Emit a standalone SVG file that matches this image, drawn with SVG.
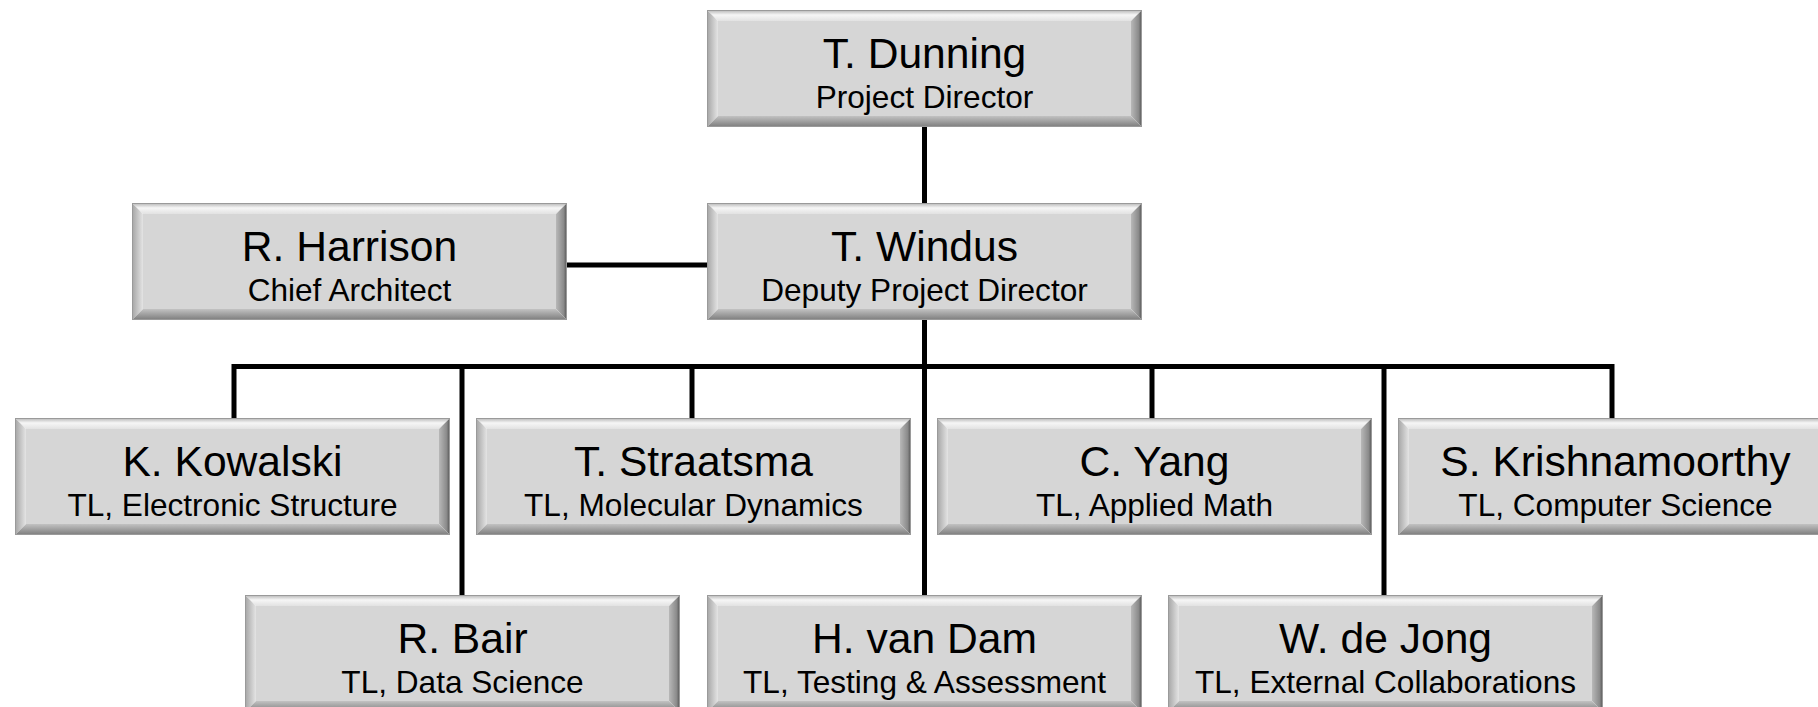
<svg xmlns="http://www.w3.org/2000/svg" xmlns:xlink="http://www.w3.org/1999/xlink" width="1818" height="707" viewBox="0 0 1818 707">
<style>
.name{font-family:"Liberation Sans",Arial,sans-serif;font-size:42.6px;fill:#000;text-anchor:middle}
.role{font-family:"Liberation Sans",Arial,sans-serif;font-size:31.6px;fill:#000;text-anchor:middle}
.conn{stroke:#000;stroke-width:5;fill:none;stroke-linecap:butt}
</style>
<defs>
<linearGradient id="gTop" x1="0" y1="0" x2="0" y2="1"><stop offset="0" stop-color="#b4b4b4"/><stop offset="0.45" stop-color="#f6f6f6"/><stop offset="1" stop-color="#e2e2e2"/></linearGradient>
<linearGradient id="gLeft" x1="0" y1="0" x2="1" y2="0"><stop offset="0" stop-color="#a4a4a4"/><stop offset="1" stop-color="#e4e4e4"/></linearGradient>
<linearGradient id="gRight" x1="0" y1="0" x2="1" y2="0"><stop offset="0" stop-color="#b8b8b8"/><stop offset="0.7" stop-color="#8a8a8a"/><stop offset="1" stop-color="#505050"/></linearGradient>
<linearGradient id="gBot" x1="0" y1="0" x2="0" y2="1"><stop offset="0" stop-color="#c2c2c2"/><stop offset="1" stop-color="#7c7c7c"/></linearGradient>
<g id="box">
<rect x="11" y="11" width="413" height="95" fill="#d6d6d6"/>
<polygon points="0,0 435,0 424,11 11,11" fill="url(#gTop)"/>
<polygon points="0,0 11,11 11,106 0,117" fill="url(#gLeft)"/>
<polygon points="435,0 435,117 424,106 424,11" fill="url(#gRight)"/>
<polygon points="0,117 11,106 424,106 435,117" fill="url(#gBot)"/>
<rect x="0.5" y="0.5" width="434" height="116" fill="none" stroke="#9a9a9a" stroke-width="1"/>
</g>
</defs>
<g id="connectors">
<line class="conn" x1="924.5" y1="127" x2="924.5" y2="203"/>
<line class="conn" x1="567" y1="265" x2="707" y2="265"/>
<line class="conn" x1="924.5" y1="320" x2="924.5" y2="595"/>
<path class="conn" d="M234,418 V366.5 H1612 V418"/>
<line class="conn" x1="692" y1="366.5" x2="692" y2="418"/>
<line class="conn" x1="1152" y1="366.5" x2="1152" y2="418"/>
<line class="conn" x1="462" y1="366.5" x2="462" y2="595"/>
<line class="conn" x1="1384" y1="366.5" x2="1384" y2="595"/>
</g>
<g id="dunning"><use xlink:href="#box" x="707" y="10"/><text class="name" x="924.5" y="68">T. Dunning</text><text class="role" x="924.5" y="108">Project Director</text></g>
<g id="windus"><use xlink:href="#box" x="707" y="203"/><text class="name" x="924.5" y="261">T. Windus</text><text class="role" x="924.5" y="301">Deputy Project Director</text></g>
<g id="harrison"><use xlink:href="#box" x="132" y="203"/><text class="name" x="349.5" y="261">R. Harrison</text><text class="role" x="349.5" y="301">Chief Architect</text></g>
<g id="kowalski"><use xlink:href="#box" x="15" y="418"/><text class="name" x="232.5" y="476">K. Kowalski</text><text class="role" x="232.5" y="516">TL, Electronic Structure</text></g>
<g id="straatsma"><use xlink:href="#box" x="476" y="418"/><text class="name" x="693.5" y="476">T. Straatsma</text><text class="role" x="693.5" y="516">TL, Molecular Dynamics</text></g>
<g id="yang"><use xlink:href="#box" x="937" y="418"/><text class="name" x="1154.5" y="476">C. Yang</text><text class="role" x="1154.5" y="516">TL, Applied Math</text></g>
<g id="krishnamoorthy"><use xlink:href="#box" x="1398" y="418"/><text class="name" x="1615.5" y="476">S. Krishnamoorthy</text><text class="role" x="1615.5" y="516">TL, Computer Science</text></g>
<g id="bair"><use xlink:href="#box" x="245" y="595"/><text class="name" x="462.5" y="653">R. Bair</text><text class="role" x="462.5" y="693">TL, Data Science</text></g>
<g id="vandam"><use xlink:href="#box" x="707" y="595"/><text class="name" x="924.5" y="653">H. van Dam</text><text class="role" x="924.5" y="693">TL, Testing &amp; Assessment</text></g>
<g id="dejong"><use xlink:href="#box" x="1168" y="595"/><text class="name" x="1385.5" y="653">W. de Jong</text><text class="role" x="1385.5" y="693">TL, External Collaborations</text></g>
</svg>
